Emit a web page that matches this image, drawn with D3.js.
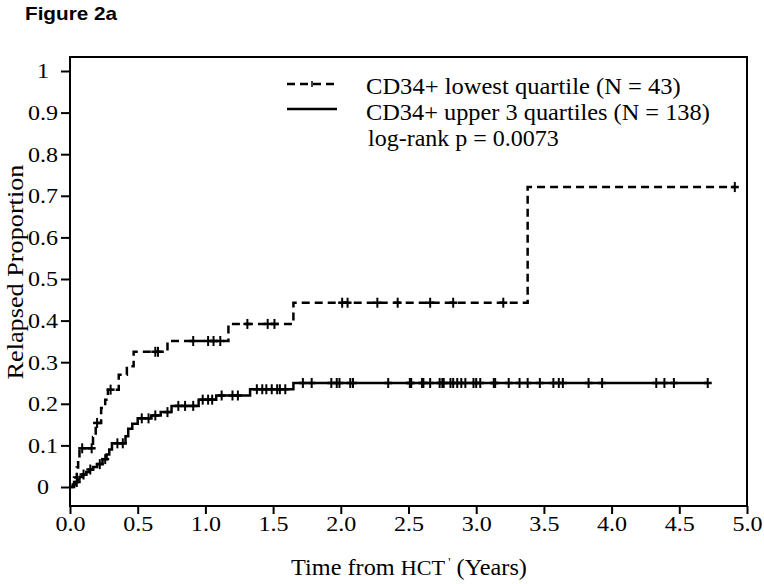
<!DOCTYPE html>
<html><head><meta charset="utf-8">
<script src="https://cdn.jsdelivr.net/npm/d3@7"></script>
<style>body{margin:0;background:#fff}svg{display:block}</style>
</head><body>
<script>
// ---- data ----
const xTicks = [0,0.5,1,1.5,2,2.5,3,3.5,4,4.5,5];
const yTicks = [0,0.1,0.2,0.3,0.4,0.5,0.6,0.7,0.8,0.9,1];
const yTickLabels = ["0","0.1","0.2","0.3","0.4","0.5","0.6","0.7","0.8","0.9","1"];
const seriesNames = ["CD34+ lowest quartile (N = 43)","CD34+ upper 3 quartiles (N = 138)"];
const pValueText = "log-rank p = 0.0073";

// lowest quartile: event times and cumulative proportions
const lowTimes  = [0.03,0.05,0.06,0.07,0.17,0.19,0.23,0.26,0.28,0.36,0.42,0.47,0.72,1.17,1.65,3.38];
const lowValues = [0.023,0.047,0.07,0.093,0.12,0.154,0.19,0.21,0.234,0.27,0.29,0.325,0.351,0.392,0.443,0.721];
const lowCensor = [0.09,0.16,0.20,0.30,0.63,0.65,0.91,1.02,1.06,1.11,1.31,1.46,1.51,2.01,2.05,2.27,2.42,2.66,2.83,3.20,4.91];
const lowEnd = 4.91;

// upper 3 quartiles
const upTimes  = [0.02,0.04,0.06,0.07,0.09,0.12,0.14,0.17,0.20,0.24,0.27,0.29,0.31,0.41,0.43,0.46,0.50,0.60,0.67,0.75,0.95,1.08,1.33,1.65];
const upValues = [0.006,0.012,0.018,0.024,0.03,0.036,0.042,0.048,0.055,0.067,0.078,0.09,0.105,0.122,0.14,0.152,0.165,0.172,0.18,0.195,0.21,0.22,0.235,0.25];
const upCensor = [0.05,0.10,0.15,0.22,0.26,0.35,0.39,0.53,0.58,0.63,0.72,0.80,0.85,0.91,0.98,1.02,1.05,1.12,1.20,1.24,
  1.38,1.42,1.45,1.49,1.53,1.55,1.59,1.72,1.785,1.93,1.97,1.99,2.07,2.09,2.35,2.51,2.52,2.60,2.61,2.66,2.73,2.75,2.76,
  2.81,2.83,2.86,2.89,2.92,2.98,3.00,3.03,3.13,3.14,3.24,3.32,3.38,3.47,3.57,3.61,3.64,3.83,3.93,4.33,4.39,4.46,4.71];
const upEnd = 4.71;

// ---- drawing ----
const W = 764, H = 584;
const svg = d3.select("body").append("svg").attr("width", W).attr("height", H);
const x = d3.scaleLinear().domain([0,5]).range([70,747]);
const y = d3.scaleLinear().domain([0,1]).range([487,71]);
const frameTop = 57, frameBottom = 506;
const serif = "'Liberation Serif','Times New Roman',serif";

// place a text so that it spans a target width (horizontal stretch)
function fit(sel, cx, cy, target, anchor, rot){
  sel.attr("text-anchor", anchor).attr("x",0).attr("y",0);
  const w = sel.node().getComputedTextLength();
  const s = target / w;
  sel.attr("transform", `translate(${cx},${cy})${rot ? ` rotate(${rot})` : ""} scale(${s},1)`);
}

const title = svg.append("text").attr("font-family","'Liberation Sans',Arial,sans-serif")
  .attr("font-weight","bold").attr("font-size",18).text("Figure 2a");
fit(title, 25, 20, 92, "start");

// frame
svg.append("rect").attr("x",x(0)).attr("y",frameTop).attr("width",x(5)-x(0)).attr("height",frameBottom-frameTop)
  .attr("fill","none").attr("stroke","#000").attr("stroke-width",2);

// y axis
const yAxis = svg.append("g").attr("transform",`translate(${x(0)},0)`)
  .call(d3.axisLeft(y).tickValues(yTicks).tickFormat((d,i)=>yTickLabels[i]).tickSize(9).tickPadding(4));
yAxis.select(".domain").remove();
yAxis.selectAll("line").attr("stroke-width",2);
yAxis.selectAll("text").attr("font-family",serif).attr("font-size",21.5).attr("fill","#000")
  .attr("text-anchor","middle").attr("x",0).attr("transform","translate(-27,0) scale(1.12,1)");

// x axis
const xAxis = svg.append("g").attr("transform",`translate(0,${frameBottom})`)
  .call(d3.axisBottom(x).tickValues(xTicks).tickFormat(d3.format(".1f")).tickSize(8).tickPadding(2));
xAxis.select(".domain").remove();
xAxis.selectAll("line").attr("stroke-width",2);
xAxis.selectAll("text").attr("font-family",serif).attr("font-size",21.5).attr("fill","#000")
  .attr("transform","scale(1.12,1)");
xAxis.selectAll(".tick").each(function(d){
  d3.select(this).select("text").attr("x",0);
});

// axis titles
const yt = svg.append("text").attr("font-family",serif).attr("font-size",23).text("Relapsed Proportion");
fit(yt, 23, 272, 215, "middle", -90);
const xt = svg.append("text").attr("font-family",serif).attr("font-size",23);
xt.append("tspan").text("Time from ");
xt.append("tspan").attr("font-size",21).text("HCT");
xt.append("tspan").attr("font-size",12).attr("dy",-9).text(" '");
xt.append("tspan").attr("dy",9).text(" (Years)");
fit(xt, 409, 575, 236, "middle");

// curves
function stepPoints(times, values, end){
  const pts = [[0,0]];
  times.forEach((t,i)=>pts.push([t,values[i]]));
  pts.push([end, values[values.length-1]]);
  return pts;
}
function valueAt(times, values, t){
  let v = 0;
  times.forEach((tt,i)=>{ if (tt <= t) v = values[i]; });
  return v;
}
const line = d3.line().x(d=>x(d[0])).y(d=>y(d[1])).curve(d3.curveStepAfter);

function drawSeries(times, values, censor, end, dashed){
  svg.append("path").datum(stepPoints(times, values, end)).attr("d", line)
    .attr("fill","none").attr("stroke","#000").attr("stroke-width",2.5)
    .attr("stroke-dasharray", dashed ? "8,5" : null);
  const g = svg.append("g");
  censor.forEach(c=>{
    const cx = x(c), cy = y(valueAt(times, values, c));
    g.append("line").attr("x1",cx).attr("x2",cx).attr("y1",cy-5).attr("y2",cy+5).attr("stroke","#000").attr("stroke-width",2);
    g.append("line").attr("x1",cx-4).attr("x2",cx+4).attr("y1",cy).attr("y2",cy).attr("stroke","#000").attr("stroke-width",2.5);
  });
}
drawSeries(upTimes, upValues, upCensor, upEnd, false);
drawSeries(lowTimes, lowValues, lowCensor, lowEnd, true);

// legend
const lg = svg.append("g");
lg.append("line").attr("x1",287).attr("x2",337).attr("y1",84).attr("y2",84).attr("stroke","#000")
  .attr("stroke-width",2.5).attr("stroke-dasharray","8,5");
lg.append("line").attr("x1",312).attr("x2",312).attr("y1",81).attr("y2",87).attr("stroke","#000").attr("stroke-width",1.5);
lg.append("line").attr("x1",287).attr("x2",337).attr("y1",109).attr("y2",109).attr("stroke","#000").attr("stroke-width",2.5);
fit(lg.append("text").attr("font-family",serif).attr("font-size",23).text(seriesNames[0]), 366, 94, 315, "start");
fit(lg.append("text").attr("font-family",serif).attr("font-size",23).text(seriesNames[1]), 366, 120, 344, "start");
fit(lg.append("text").attr("font-family",serif).attr("font-size",23).text(pValueText), 368, 146, 191, "start");
</script>
</body></html>
